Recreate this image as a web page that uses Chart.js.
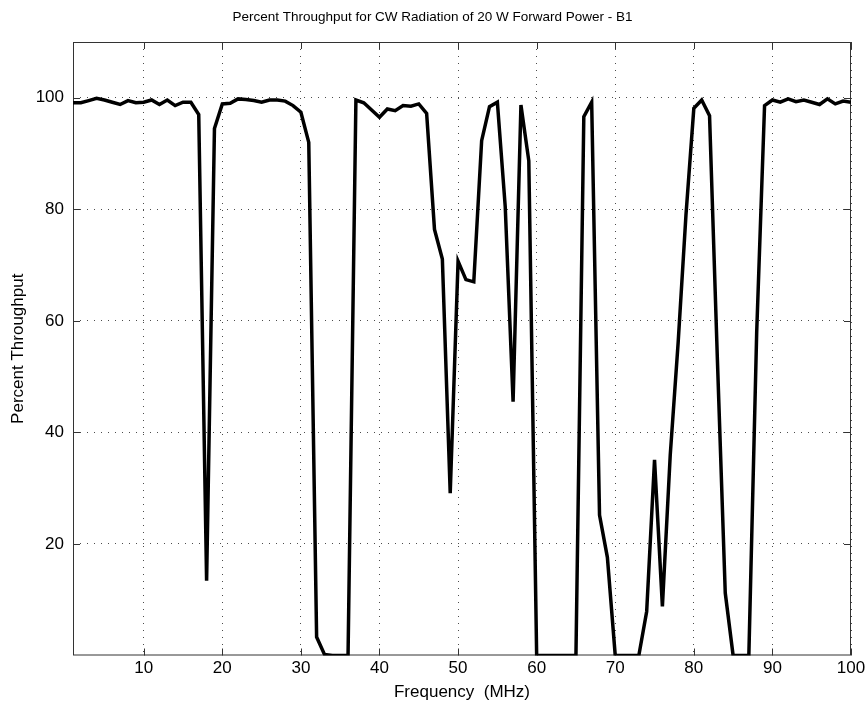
<!DOCTYPE html>
<html>
<head>
<meta charset="utf-8">
<title>Percent Throughput</title>
<script src="https://cdn.jsdelivr.net/npm/chart.js@4.4.1/dist/chart.umd.min.js"></script>
<style>
  html, body { margin: 0; padding: 0; background: #fff; }
  #wrap { width: 865px; height: 703px; position: relative; }
</style>
</head>
<body>
<div id="wrap"><canvas id="chart1"></canvas></div>
<script>
// frequency (MHz) and percent throughput
const frequency = [
  1, 2, 3, 4, 5, 6, 7, 8, 9, 10,
  11, 12, 13, 14, 15, 16, 17, 18, 19, 20,
  21, 22, 23, 24, 25, 26, 27, 28, 29, 30,
  31, 32, 33, 34, 35, 36, 37, 38, 39, 40,
  41, 42, 43, 44, 45, 46, 47, 48, 49, 50,
  51, 52, 53, 54, 55, 56, 57, 58, 59, 60,
  61, 62, 63, 64, 65, 66, 67, 68, 69, 70,
  71, 72, 73, 74, 75, 76, 77, 78, 79, 80,
  81, 82, 83, 84, 85, 86, 87, 88, 89, 90,
  91, 92, 93, 94, 95, 96, 97, 98, 99, 100
];
const throughput = [
  99.1, 99.1, 99.5, 99.9, 99.6, 99.2, 98.8, 99.5, 99.1, 99.2,
  99.6, 98.8, 99.6, 98.6, 99.2, 99.2, 97.0, 13.4, 94.5, 98.9,
  99.0, 99.8, 99.7, 99.5, 99.2, 99.6, 99.6, 99.4, 98.6, 97.4,
  92.0, 3.3, 0.2, 0, 0, 0, 99.6, 99.1, 97.8, 96.5,
  98.0, 97.7, 98.6, 98.5, 98.9, 97.2, 76.4, 71.1, 29.1, 70.7,
  67.4, 67.0, 92.3, 98.4, 99.2, 80.5, 45.5, 98.7, 88.7, 0,
  0, 0, 0, 0, 0, 96.6, 99.2, 25.2, 17.6, 0,
  0, 0, 0, 7.9, 35.1, 8.8, 36.0, 56.0, 79.0, 98.1,
  99.6, 96.8, 53.0, 11.2, 0, 0, 0, 58.0, 98.6, 99.6,
  99.2, 99.8, 99.3, 99.6, 99.2, 98.8, 99.8, 98.9, 99.4, 99.2
];
const xTicks = [10, 20, 30, 40, 50, 60, 70, 80, 90, 100];
const yTicks = [20, 40, 60, 80, 100];

const points = frequency.map((f, i) => ({x: f, y: throughput[i]}));

const fontFamily = "'Liberation Sans', Arial, Helvetica, sans-serif";

// box round the plot with inward tick marks, like the original
const framePlugin = {
  id: 'frame',
  beforeDatasetsDraw(chart) {
    const {ctx, chartArea: a, scales} = chart;
    ctx.save();
    ctx.strokeStyle = '#333';
    ctx.lineWidth = 1;
    ctx.strokeRect(a.left + 0.5, a.top + 0.5, a.right - a.left - 1, a.bottom - a.top - 1);
    ctx.beginPath();
    xTicks.forEach(v => {
      const px = Math.round(scales.x.getPixelForValue(v)) + 0.5;
      ctx.moveTo(px, a.bottom);
      ctx.lineTo(px, a.bottom - 7);
      ctx.moveTo(px, a.top);
      ctx.lineTo(px, a.top + 7);
    });
    yTicks.forEach(v => {
      const py = Math.round(scales.y.getPixelForValue(v)) + 0.5;
      ctx.moveTo(a.left, py);
      ctx.lineTo(a.left + 7, py);
      ctx.moveTo(a.right, py);
      ctx.lineTo(a.right - 7, py);
    });
    ctx.stroke();
    ctx.restore();
  }
};

const ctx = document.getElementById('chart1').getContext('2d');

const chart1 = new Chart(ctx, {
  type: 'line',
  data: {
    datasets: [{
      label: 'Percent Throughput',
      data: points,
      borderColor: '#000',
      backgroundColor: '#000',
      borderWidth: 3.5,
      pointRadius: 0,
      tension: 0,
      fill: false
    }]
  },
  options: {
    responsive: true,
    maintainAspectRatio: false,
    animation: false,
    layout: {
      padding: {left: 0, right: 0, top: 0, bottom: 0}
    },
    plugins: {
      legend: {display: false},
      tooltip: {enabled: false},
      title: {
        display: true,
        text: 'Percent Throughput for CW Radiation of 20 W Forward Power - B1',
        color: '#000',
        font: {family: fontFamily, size: 13.5, weight: 'normal'},
        padding: {top: 9, bottom: 16.8}
      }
    },
    scales: {
      x: {
        type: 'linear',
        min: 1,
        max: 100,
        afterBuildTicks: function(scale) {
          scale.ticks = xTicks.map(v => ({value: v}));
        },
        afterFit: function(scale) {
          scale.height = 47.5;
          scale.paddingLeft = 0;
          scale.paddingRight = 14;
        },
        grid: {
          color: 'rgba(0,0,0,0.7)',
          lineWidth: 1,
          drawTicks: false
        },
        border: {display: false, dash: [1, 6]},
        ticks: {
          color: '#000',
          padding: 3,
          maxRotation: 0,
          autoSkip: false,
          font: {family: fontFamily, size: 17}
        },
        title: {
          display: true,
          text: 'Frequency  (MHz)',
          color: '#000',
          font: {family: fontFamily, size: 17},
          padding: {top: 0, bottom: 0}
        }
      },
      y: {
        type: 'linear',
        min: 0,
        max: 110,
        afterBuildTicks: function(scale) {
          scale.ticks = yTicks.map(v => ({value: v}));
        },
        afterFit: function(scale) {
          scale.width = 73;
        },
        grid: {
          color: 'rgba(0,0,0,0.7)',
          lineWidth: 1,
          drawTicks: false
        },
        border: {display: false, dash: [1, 6]},
        ticks: {
          color: '#000',
          padding: 9,
          font: {family: fontFamily, size: 17}
        },
        title: {
          display: true,
          text: 'Percent Throughput',
          color: '#000',
          font: {family: fontFamily, size: 17},
          padding: {top: 8, bottom: 0}
        }
      }
    }
  },
  plugins: [framePlugin]
});
</script>
</body>
</html>
